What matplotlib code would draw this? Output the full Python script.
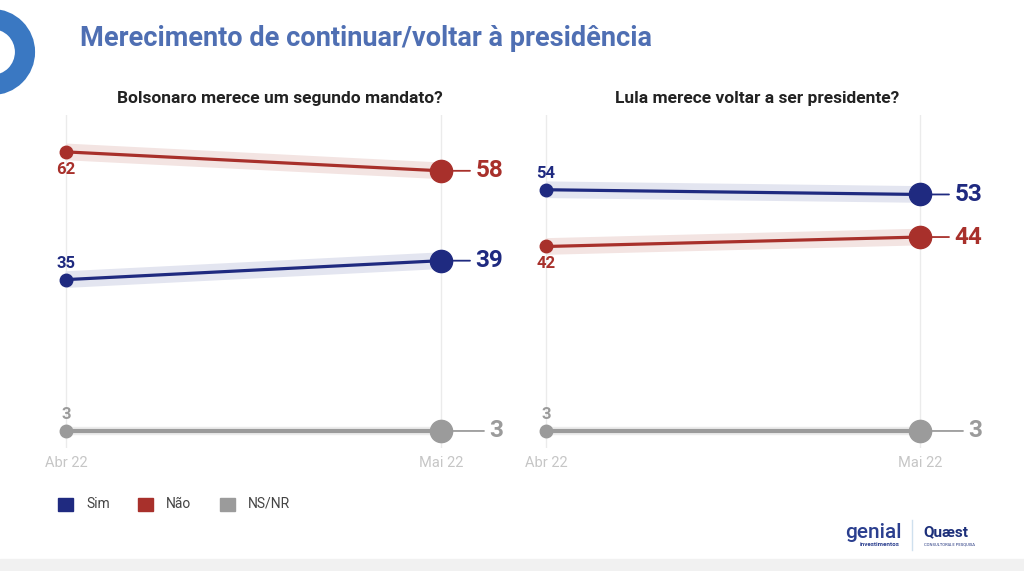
import matplotlib.pyplot as plt
import matplotlib.patches as mpatches
from matplotlib.lines import Line2D

plt.rcParams['font.family'] = ['Roboto', 'DejaVu Sans']

# --- DADOS ---
meses = ["Abr 22", "Mai 22"]
bolso_sim = [35, 39]
bolso_nao = [62, 58]
bolso_ns = [3, 3]
lula_sim = [54, 53]
lula_nao = [42, 44]
lula_ns = [3, 3]

titulo = "Merecimento de continuar/voltar à presidência"
sub_bolso = "Bolsonaro merece um segundo mandato?"
sub_lula = "Lula merece voltar a ser presidente?"

AZUL = '#1f2a80'
VERMELHO = '#a8302b'
CINZA = '#9b9b9b'
BANDA = {AZUL: '#e3e5f0', VERMELHO: '#f3e4e2', CINZA: '#ececec'}

W, H = 1024, 571
fig = plt.figure(figsize=(W / 100, H / 100), dpi=100)


def fx(x):
    return x / W


def fy(y):
    return 1 - y / H


def painel(x0, x_abr, x_mai, series, subtitulo, sub_x):
    # axes em pixels: topo 115, base 448
    x1 = x0 + 495
    ax = fig.add_axes([fx(x0), fy(448), (x1 - x0) / W, (448 - 115) / H])
    esc = x_mai - x_abr
    ax.set_xlim(-(x_abr - x0) / esc, (x1 - x_abr) / esc)
    ax.set_ylim(-0.6, 69.8)
    for s in ax.spines.values():
        s.set_visible(False)
    ax.set_yticks([])
    ax.set_xticks([0, 1], meses)
    ax.tick_params(axis='x', length=0, pad=6, labelsize=10.5, labelcolor='#c6c6c6')
    for xv in (0, 1):
        ax.axvline(xv, color='#ebebeb', lw=1, zorder=0)

    xs = [0, 1]
    for vals, cor, pos in series:
        larg = 12 if cor != CINZA else 6
        ax.plot(xs, vals, color=BANDA[cor], lw=larg, solid_capstyle='butt', zorder=1)
        ax.plot(xs, vals, color=cor, lw=2.3 if cor != CINZA else 3, zorder=2)
        ax.plot(0, vals[0], 'o', color=cor, ms=9, zorder=3)
        ax.plot(1, vals[1], 'o', color=cor, ms=16, zorder=3)
        # rotulo inicial
        dy = 9 if pos == 'acima' else -10
        va = 'bottom' if pos == 'acima' else 'top'
        ax.annotate(str(vals[0]), (0, vals[0]), xytext=(0, dy), textcoords='offset pixels',
                    ha='center', va=va, fontsize=12, fontweight='bold', color=cor)
        # rotulo final, alinhado a direita
        txt = str(vals[1])
        ax.annotate(txt, (1, vals[1]), xytext=(62, 0), textcoords='offset pixels',
                    ha='right', va='center', fontsize=17.5, fontweight='bold', color=cor)
        fim = 62 - 14 * len(txt) - 5
        ax.annotate('', (1, vals[1]), xytext=(fim, 0), textcoords='offset pixels',
                    arrowprops=dict(arrowstyle='-', color=cor, lw=1.3, shrinkA=0, shrinkB=0))
    fig.text(fx(sub_x), fy(98), subtitulo, ha='center', va='center', fontsize=12.5,
             fontweight='bold', color='#222222')
    return ax


painel(20, 66, 441,
       [(bolso_nao, VERMELHO, 'abaixo'), (bolso_sim, AZUL, 'acima'), (bolso_ns, CINZA, 'acima')],
       sub_bolso, 280)
painel(515, 546, 920,
       [(lula_sim, AZUL, 'acima'), (lula_nao, VERMELHO, 'abaixo'), (lula_ns, CINZA, 'acima')],
       sub_lula, 757)

# titulo
fig.text(fx(80), fy(38), titulo, ha='left', va='center', fontsize=19.5,
         fontweight='bold', color='#4f6fb3')

# anel azul decorativo
fig.patches.append(mpatches.Ellipse((fx(-8), fy(52)), width=66 / W, height=66 / H,
                                    transform=fig.transFigure, fill=False, lw=14.5,
                                    edgecolor='#3a78c2'))

# legenda
itens = [("Sim", AZUL, 58), ("Não", VERMELHO, 138), ("NS/NR", CINZA, 220)]
for nome, cor, x in itens:
    fig.patches.append(mpatches.Rectangle((fx(x), fy(511)), 15 / W, 13 / H,
                                          transform=fig.transFigure, color=cor))
    fig.text(fx(x + 28), fy(504), nome, ha='left', va='center', fontsize=10, color='#444444')

# logos (texto)
fig.text(fx(845), fy(533), "genial", ha='left', va='center', fontsize=15,
         color='#2b3f8f', fontweight='medium')
fig.text(fx(900), fy(545), "investimentos", ha='right', va='center', fontsize=4.5,
         color='#2b3f8f', fontweight='bold')
fig.add_artist(Line2D([fx(912), fx(912)], [fy(520), fy(550)], transform=fig.transFigure,
                      color='#cfe0ee', lw=1))
fig.text(fx(923), fy(532), "Quæst", ha='left', va='center', fontsize=11,
         color='#1c2f7a', fontweight='bold')
fig.text(fx(924), fy(545), "CONSULTORIA E PESQUISA", ha='left', va='center', fontsize=3,
         color='#1c2f7a')

# faixa inferior
fig.patches.append(mpatches.Rectangle((0, 0), 1, 12 / H, transform=fig.transFigure,
                                      color='#f1f1f1', zorder=0))

fig.savefig("out.png", dpi=100)
